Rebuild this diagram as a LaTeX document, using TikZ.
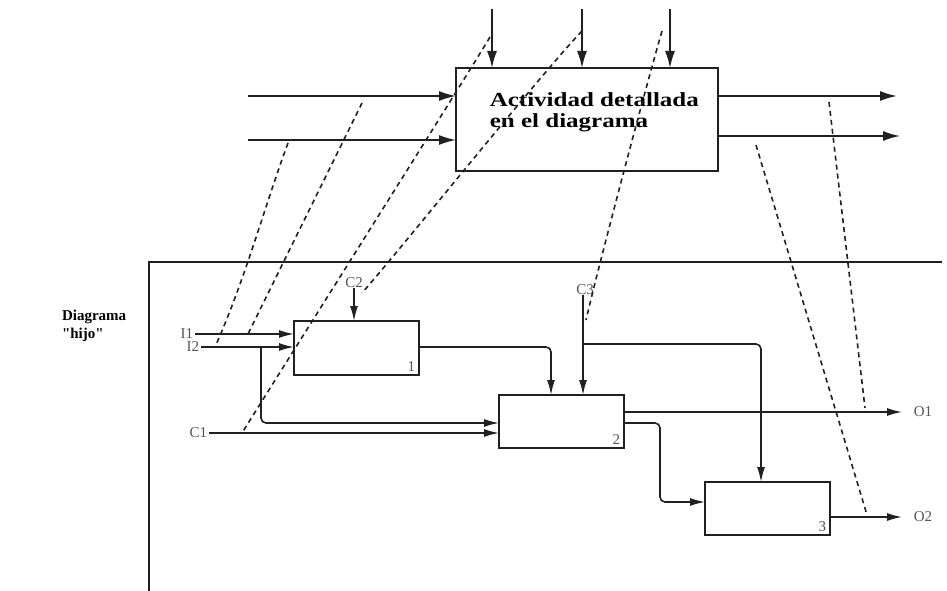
\documentclass[tikz,border=0pt]{standalone}
\usepackage{fontspec}
\setmainfont{Liberation Serif}
\newfontfamily\rawserif{Liberation Serif}[Ligatures=TeXOff]
\usetikzlibrary{arrows.meta}
\definecolor{labgray}{HTML}{555555}
\definecolor{ln}{HTML}{202020}
\begin{document}
\begin{tikzpicture}[x=1pt,y=-1pt,line width=1.6pt,draw=ln,
  box/.style={draw=ln,line width=2pt,anchor=north west,inner sep=0pt,outer sep=0pt},
  parr/.style={-{Latex[length=17pt,width=10pt]}},
  carr/.style={-{Latex[length=15pt,width=8pt]}},
  map/.style={dash pattern=on 5pt off 4pt,line width=1.6pt},
  lab/.style={font=\fontsize{15}{15}\selectfont,text=labgray,inner sep=1pt},
  num/.style={font=\fontsize{15}{15}\selectfont,text=labgray,inner sep=3pt,anchor=south east},
  big/.style={font=\bfseries\fontsize{20}{21}\selectfont,inner sep=0pt,anchor=base west},
  side/.style={font=\rawserif\bfseries\fontsize{15}{16}\selectfont,inner sep=0pt,anchor=base east}]
\useasboundingbox (0,0) rectangle (947,591);

% ---------- parent activity ----------
\node[box,minimum width=262pt,minimum height=103pt] (P) at (456,68) {};
\node[big] (Pt1) at (489,107) {\scalebox{1.25}[1]{Actividad detallada}};
\node[big] (Pt2) at (489,128) {\scalebox{1.25}[1]{en el diagrama}};

\coordinate (pt1) at (492,9);
\coordinate (pt2) at (582,9);
\coordinate (pt3) at (670,9);
\coordinate (pin1) at (248,96);
\coordinate (pin2) at (248,140);
\coordinate (pout1) at (897,96);
\coordinate (pout2) at (900,136);
\draw[parr] (pt1) -- (pt1 |- P.north);
\draw[parr] (pt2) -- (pt2 |- P.north);
\draw[parr] (pt3) -- (pt3 |- P.north);
\draw[parr] (pin1) -- (pin1 -| P.west);
\draw[parr] (pin2) -- (pin2 -| P.west);
\draw[parr] (P.east |- pout1) -- (pout1);
\draw[parr] (P.east |- pout2) -- (pout2);

% ---------- child frame ----------
\coordinate (fr0) at (149,262);
\coordinate (fr1) at (942,262);
\coordinate (fr2) at (149,591);
\draw[line width=2pt] (fr1) -- (fr0) -- (fr2);
\node[side] (D1) at (127,320) {Diagrama};
\node[side,anchor=base west] (D2) at (D1.base west |- 0,338) {"hijo"};

% ---------- child boxes ----------
\node[box,minimum width=125pt,minimum height=54pt] (B1) at (294,321) {};
\node[box,minimum width=125pt,minimum height=53pt] (B2) at (499,395) {};
\node[box,minimum width=125pt,minimum height=53pt] (B3) at (705,482) {};
\node[num] (n1) at (B1.south east) {1};
\node[num] (n2) at (B2.south east) {2};
\node[num] (n3) at (B3.south east) {3};

% ---------- child labels / coordinates ----------
\coordinate (ci1) at (195,334);
\coordinate (ci2) at (201,347);
\coordinate (cc1) at (209,433);
\coordinate (cc2) at (354,288);
\coordinate (cc3) at (583,295);
\coordinate (co1) at (902,412);
\coordinate (co2) at (902,517);
\node[lab,anchor=east] (I1) at (ci1) {I1};
\node[lab,anchor=east] (I2) at (ci2) {I2};
\node[lab,anchor=east] (C1) at (cc1) {C1};
\node[lab,anchor=south] (C2) at ([yshift=-1pt]cc2) {C2};
\node[lab,anchor=south] (C3) at ([xshift=2pt,yshift=-1pt]cc3) {C3};
\node[lab,anchor=west,xshift=10pt] (O1) at (co1) {O1};
\node[lab,anchor=west,xshift=10pt] (O2) at (co2) {O2};

\coordinate (br2) at (261,347);
\coordinate (b2a) at (499,423);
\coordinate (b2b) at (499,433);
\coordinate (b1o) at (419,347);
\coordinate (b2t1) at (551,395);
\coordinate (b2t2) at (583,395);
\coordinate (br3) at (583,344);
\coordinate (b3t) at (761,482);
\coordinate (b2o1) at (624,412);
\coordinate (b2o2) at (624,423);
\coordinate (k2) at (660,423);
\coordinate (b3a) at (705,502);
\coordinate (b3o) at (830,517);

\draw[carr] (ci1) -- (ci1 -| B1.west);
\draw[carr] (ci2) -- (ci2 -| B1.west);
\draw[carr,rounded corners=5pt] (br2) -- (br2 |- b2a) -- (b2a);
\draw[carr] (cc1) -- (b2b);
\draw[carr] (cc2) -- (cc2 |- B1.north);
\draw[carr,rounded corners=5pt] (b1o) -- (b1o -| b2t1) -- (b2t1);
\draw[carr] (cc3) -- (b2t2);
\draw[carr,rounded corners=5pt] (br3) -- (br3 -| b3t) -- (b3t);
\draw[carr] (b2o1) -- (co1);
\draw[carr,rounded corners=5pt] (b2o2) -- (k2) -- (k2 |- b3a) -- (b3a);
\draw[carr] (b3o) -- (co2);

% ---------- mapping (dashed) ----------
\coordinate (m1s) at (490,37);  \coordinate (m1e) at (242,433);
\coordinate (m2s) at (582,31);  \coordinate (m2e) at (362,293);
\coordinate (m3s) at (662,31);  \coordinate (m3e) at (586,320);
\coordinate (m4s) at (362,103); \coordinate (m4e) at (248,334);
\coordinate (m5s) at (288,143); \coordinate (m5e) at (215,347);
\coordinate (m6s) at (829,102); \coordinate (m6e) at (865,408);
\coordinate (m7s) at (756,145); \coordinate (m7e) at (867,515);
\draw[map] (m1s) .. controls (455,95) and (300,340) .. (m1e);
\draw[map] (m2s) .. controls (540,75) and (400,250) .. (m2e);
\draw[map] (m3s) .. controls (645,90) and (600,260) .. (m3e);
\draw[map] (m4s) -- (m4e);
\draw[map] (m5s) .. controls (265,205) and (245,280) .. (m5e);
\draw[map] (m6s) -- (m6e);
\draw[map] (m7s) -- (m7e);
\end{tikzpicture}
\end{document}
